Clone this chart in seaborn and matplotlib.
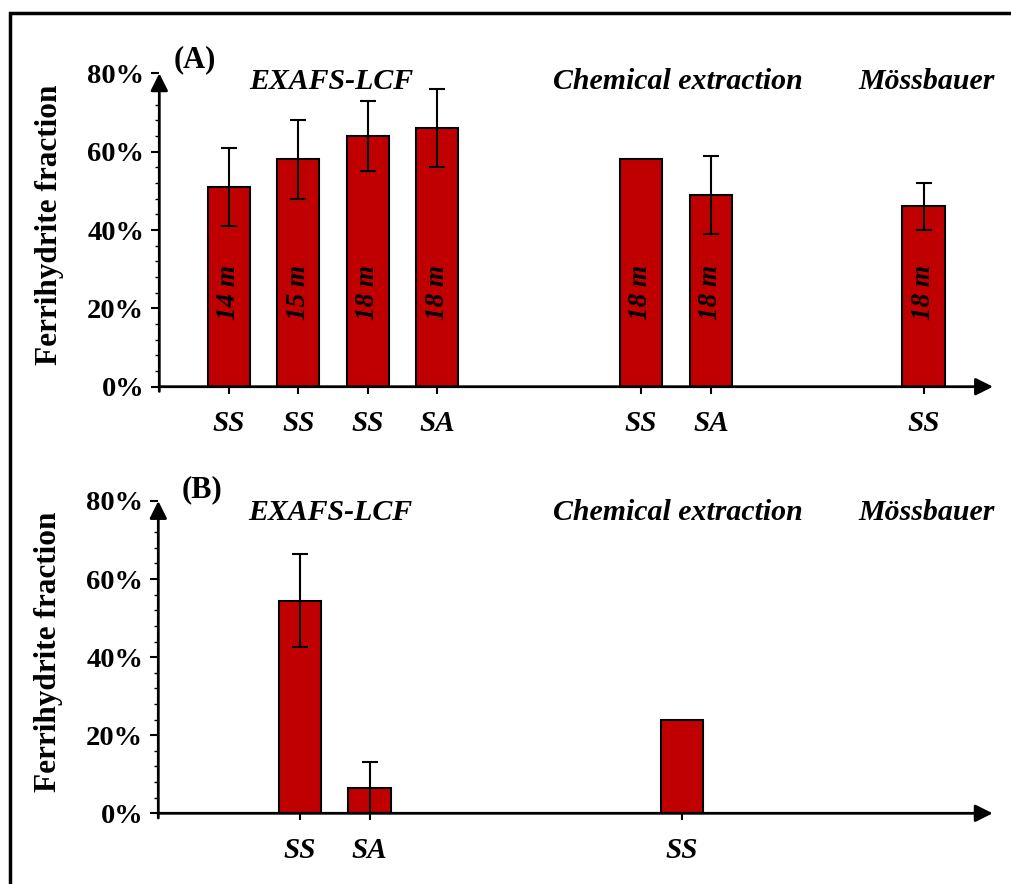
import matplotlib
matplotlib.use("Agg")
import matplotlib.pyplot as plt
from matplotlib.patches import Rectangle
import seaborn as sns
import pandas as pd

# ---- data ----
# Panel A
labels_a = ["SS", "SS", "SS", "SA", "SS", "SA", "SS"]
depth_a = ["14 m", "15 m", "18 m", "18 m", "18 m", "18 m", "18 m"]
slot_a = [1, 2, 3, 4, 6.93, 7.94, 11.0]
values_a = [51, 58, 64, 66, 58, 49, 46]
errors_a = [10, 10, 9, 10, 0, 10, 6]
# Panel B
labels_b = ["SS", "SA", "SS"]
slot_b = [2.04, 3.04, 7.53]
values_b = [54.5, 6.6, 24]
errors_b = [12, 6.6, 0]

groups = ["EXAFS-LCF", "Chemical extraction", "Mössbauer"]
group_slot = [2.47, 7.47, 11.05]
yticks = [0, 20, 40, 60, 80]
ytick_labels = ["0%", "20%", "40%", "60%", "80%"]

BAR = "#C00000"

sns.set_style("ticks")
plt.rcParams["font.family"] = ["Liberation Serif", "DejaVu Serif"]
plt.rcParams["font.weight"] = "bold"
for k in ["text.color", "axes.labelcolor", "xtick.color", "ytick.color",
          "axes.edgecolor"]:
    plt.rcParams[k] = "black"

fig = plt.figure(figsize=(10.11, 8.84), dpi=100)
ax_a = fig.add_axes([159.3 / 1011, 1 - 386.7 / 884, 833.7 / 1011, 313.4 / 884])
ax_b = fig.add_axes([158.3 / 1011, 1 - 813.3 / 884, 834.4 / 1011, 312.3 / 884])


def draw(ax, slots, vals, errs, labels, depth, tag, title_y, tag_xy):
    df = pd.DataFrame({"x": slots, "y": vals})
    sns.barplot(data=df, x="x", y="y", native_scale=True, width=0.61,
                color=BAR, saturation=1, edgecolor="black", linewidth=1.5,
                errorbar=None, ax=ax, zorder=2)
    for x, v, e in zip(slots, vals, errs):
        if e > 0:
            ax.errorbar([x], [v], yerr=[[min(e, v)], [e]], fmt="none",
                        ecolor="black", elinewidth=1.5, capsize=5.5,
                        capthick=1.5, zorder=3)
    ax.set_xlim(0, 12)
    ax.set_ylim(0, 80)
    for s in ax.spines.values():
        s.set_visible(False)
    # axis lines with arrowheads
    ax.annotate("", xy=(1.0, 0), xytext=(0, 0), xycoords="axes fraction",
                arrowprops=dict(arrowstyle="-|>", lw=2, color="black",
                                mutation_scale=26, shrinkA=0, shrinkB=0),
                annotation_clip=False)
    ax.annotate("", xy=(0, 1.0), xytext=(0, -0.015), xycoords="axes fraction",
                arrowprops=dict(arrowstyle="-|>", lw=2, color="black",
                                mutation_scale=26, shrinkA=0, shrinkB=0),
                annotation_clip=False)
    ax.set_yticks(yticks)
    ax.set_yticklabels(ytick_labels, fontsize=20.5, fontweight="bold")
    ax.set_yticks(range(0, 80, 4), minor=True)
    ax.tick_params(axis="y", which="major", direction="out", length=6,
                   width=1.5, pad=5, left=True)
    ax.tick_params(axis="y", which="minor", direction="out", length=3,
                   width=1.0, left=True)
    ax.set_xticks(slots)
    ax.set_xticklabels(labels, fontsize=21, fontweight="bold", style="italic")
    ax.tick_params(axis="x", which="major", direction="out", length=5,
                   width=1.5, pad=12)
    ax.tick_params(axis="x", which="minor", bottom=False)
    ax.set_xlabel("")
    ax.set_ylabel("Ferrihydrite fraction", fontsize=22.5, fontweight="bold",
                  va="center")
    ax.yaxis.set_label_coords(-0.1315, 0.516)
    for g, gx in zip(groups, group_slot):
        ax.text(gx, title_y, g, transform=ax.get_xaxis_transform(),
                ha="center", va="center", fontsize=21.5, fontweight="bold",
                style="italic")
    ax.text(tag_xy[0], tag_xy[1], tag, transform=ax.transAxes, ha="center",
            va="center", fontsize=22, fontweight="bold")
    if depth:
        for x, d in zip(slots, depth):
            ax.text(x, 24, d, rotation=90, ha="center", va="center",
                    fontsize=19.5, fontweight="bold", style="italic", zorder=4)
    ax.set_facecolor("none")


draw(ax_a, slot_a, values_a, errors_a, labels_a, depth_a, "(A)", 0.975,
     (0.043, 1.042))
draw(ax_b, slot_b, values_b, errors_b, labels_b, None, "(B)", 0.962,
     (0.052, 1.035))

fig.add_artist(Rectangle((9.5 / 1011, -0.2), 1.5, 1 - 12.5 / 884 + 0.2,
                         transform=fig.transFigure, fill=False, lw=2.5,
                         ec="black"))

fig.savefig("out.png", dpi=100, facecolor="white")
